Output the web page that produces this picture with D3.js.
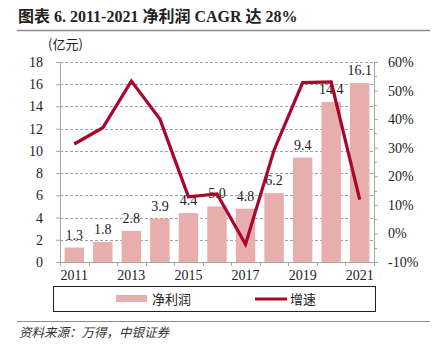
<!DOCTYPE html>
<html>
<head>
<meta charset="utf-8">
<script src="https://cdn.jsdelivr.net/npm/d3@7"></script>
<style>
  body { margin: 0; background: #fff; }
  svg { display: block; }
  .num { font-family: "Liberation Serif", "Times New Roman", serif; }
  .cjk { font-family: "Noto Sans CJK SC", sans-serif; }
</style>
</head>
<body>
<div id="chart"></div>
<script>
// data
var years = ["2011","2012","2013","2014","2015","2016","2017","2018","2019","2020","2021"];
var profit = [1.3, 1.8, 2.8, 3.9, 4.4, 5.0, 4.8, 6.2, 9.4, 14.4, 16.1];
var growth = [31.3, 37.0, 53.3, 40.0, 12.8, 13.8, -3.8, 29.2, 52.8, 53.0, 11.8];
var leftTicks = [0, 2, 4, 6, 8, 10, 12, 14, 16, 18];
var rightTicks = [-10, 0, 10, 20, 30, 40, 50, 60];
var xLabelYears = ["2011","2013","2015","2017","2019","2021"];

var W = 441, H = 358;
var margin = { left: 60, right: 67, top: 62, bottom: 96 };
var width = W - margin.left - margin.right;
var height = H - margin.top - margin.bottom;

var barColor = "#E8ADAD", lineColor = "#A8062C", axisColor = "#A6A6A6";

var svg = d3.select("#chart").append("svg")
    .attr("width", W)
    .attr("height", H);

// title + rules
svg.append("text")
    .attr("x", 18).attr("y", 22)
    .attr("font-size", "16px").attr("font-weight", "bold")
    .attr("fill", "#222")
    .attr("font-family", "'Liberation Serif', 'Noto Sans CJK SC', serif")
    .text("图表 6. 2011-2021 净利润 CAGR 达 28%");
svg.append("line")
    .attr("x1", 17).attr("x2", 430).attr("y1", 30.5).attr("y2", 30.5)
    .attr("stroke", "#8c8c8c").attr("stroke-width", 1.5);
svg.append("line")
    .attr("x1", 17).attr("x2", 430).attr("y1", 321.5).attr("y2", 321.5)
    .attr("stroke", "#8c8c8c").attr("stroke-width", 1);
svg.append("text")
    .attr("class", "cjk")
    .attr("x", 19).attr("y", 337)
    .attr("font-size", "12.5px").attr("font-style", "italic")
    .attr("fill", "#333")
    .text("资料来源：万得，中银证券");

var g = svg.append("g")
    .attr("transform", "translate(" + margin.left + "," + margin.top + ")");

var x = d3.scaleBand().domain(years).range([0, width]).paddingInner(0.32).paddingOuter(0.16);
var yL = d3.scaleLinear().domain([0, 18]).range([height, 0]);
var yR = d3.scaleLinear().domain([-10, 60]).range([height, 0]);

// grid
g.selectAll(".grid").data(leftTicks.slice(1)).enter()
    .append("line")
    .attr("x1", 0).attr("x2", width)
    .attr("y1", function(d){ return Math.round(yL(d)) + 0.5; })
    .attr("y2", function(d){ return Math.round(yL(d)) + 0.5; })
    .attr("stroke", "#A0A0A0")
    .attr("stroke-dasharray", "3,2");

// bars
g.selectAll("rect.bar").data(profit).enter()
    .append("rect")
    .attr("class", "bar")
    .attr("x", function(d, i){ return x(years[i]); })
    .attr("width", x.bandwidth())
    .attr("y", function(d){ return yL(d); })
    .attr("height", function(d){ return height - yL(d); })
    .attr("fill", barColor);

// bar labels
g.selectAll("text.blab").data(profit).enter()
    .append("text")
    .attr("class", "num")
    .attr("x", function(d, i){ return x(years[i]) + x.bandwidth() / 2; })
    .attr("y", function(d){ return yL(d) - 8; })
    .attr("text-anchor", "middle")
    .attr("font-size", "14px")
    .attr("fill", "#222")
    .text(function(d){ return d.toFixed(1); });

// growth line
var line = d3.line()
    .x(function(d, i){ return x(years[i]) + x.bandwidth() / 2; })
    .y(function(d){ return yR(d); });
g.append("path")
    .datum(growth)
    .attr("d", line)
    .attr("fill", "none")
    .attr("stroke", lineColor)
    .attr("stroke-width", 3.2)
    .attr("stroke-linejoin", "miter");

// left axis
var yAxisL = g.append("g")
    .attr("class", "num")
    .call(d3.axisLeft(yL).tickValues(leftTicks).tickSize(4).tickPadding(13));
// right axis
var yAxisR = g.append("g")
    .attr("class", "num")
    .attr("transform", "translate(" + width + ",0)")
    .call(d3.axisRight(yR).tickValues(rightTicks).tickSize(4).tickPadding(10)
        .tickFormat(function(d){ return d + "%"; }));
// x axis: ticks at band boundaries
var xAxis = g.append("g")
    .attr("transform", "translate(0," + height + ")");
xAxis.append("line")
    .attr("x1", -3).attr("x2", width + 3)
    .attr("y1", 0.5).attr("y2", 0.5)
    .attr("stroke", axisColor);
var step = x.step();
var bounds = d3.range(years.length + 1).map(function(i){ return x(years[0]) - x.paddingInner() * step / 2 + i * step; });
xAxis.selectAll(".xt").data(bounds).enter()
    .append("line")
    .attr("x1", function(d){ return Math.round(d) + 0.5; })
    .attr("x2", function(d){ return Math.round(d) + 0.5; })
    .attr("y1", 0).attr("y2", 4)
    .attr("stroke", axisColor);
xAxis.selectAll(".xl").data(xLabelYears).enter()
    .append("text")
    .attr("class", "num")
    .attr("x", function(d){ return x(d) + x.bandwidth() / 2; })
    .attr("y", 18)
    .attr("text-anchor", "middle")
    .attr("font-size", "14px")
    .attr("fill", "#222")
    .text(function(d){ return d; });

[yAxisL, yAxisR].forEach(function(ax){
    ax.select(".domain").attr("stroke", axisColor);
    ax.selectAll(".tick line").attr("stroke", axisColor);
    ax.selectAll(".tick text").attr("font-size", "14px").attr("fill", "#222");
});
// minor ticks on right axis
g.selectAll(".minorR").data(d3.range(-5, 60, 10)).enter()
    .append("line")
    .attr("x1", width).attr("x2", width + 3)
    .attr("y1", function(d){ return Math.round(yR(d)) + 0.5; })
    .attr("y2", function(d){ return Math.round(yR(d)) + 0.5; })
    .attr("stroke", axisColor);

// unit label
svg.append("text")
    .attr("class", "cjk")
    .attr("x", 48).attr("y", 49)
    .attr("font-size", "13px")
    .attr("fill", "#222")
    .text("(亿元)");

// legend
var lg = svg.append("g");
lg.append("rect")
    .attr("x", 53.5).attr("y", 286.5).attr("width", 322).attr("height", 25)
    .attr("fill", "none").attr("stroke", "#222").attr("stroke-width", 1);
lg.append("rect")
    .attr("x", 116).attr("y", 295).attr("width", 31).attr("height", 7)
    .attr("fill", barColor);
lg.append("text")
    .attr("class", "cjk")
    .attr("x", 152).attr("y", 304)
    .attr("font-size", "13px").attr("fill", "#222")
    .text("净利润");
lg.append("line")
    .attr("x1", 255).attr("x2", 287).attr("y1", 299).attr("y2", 299)
    .attr("stroke", lineColor).attr("stroke-width", 3);
lg.append("text")
    .attr("class", "cjk")
    .attr("x", 290).attr("y", 304)
    .attr("font-size", "13px").attr("fill", "#222")
    .text("增速");
</script>
</body>
</html>
